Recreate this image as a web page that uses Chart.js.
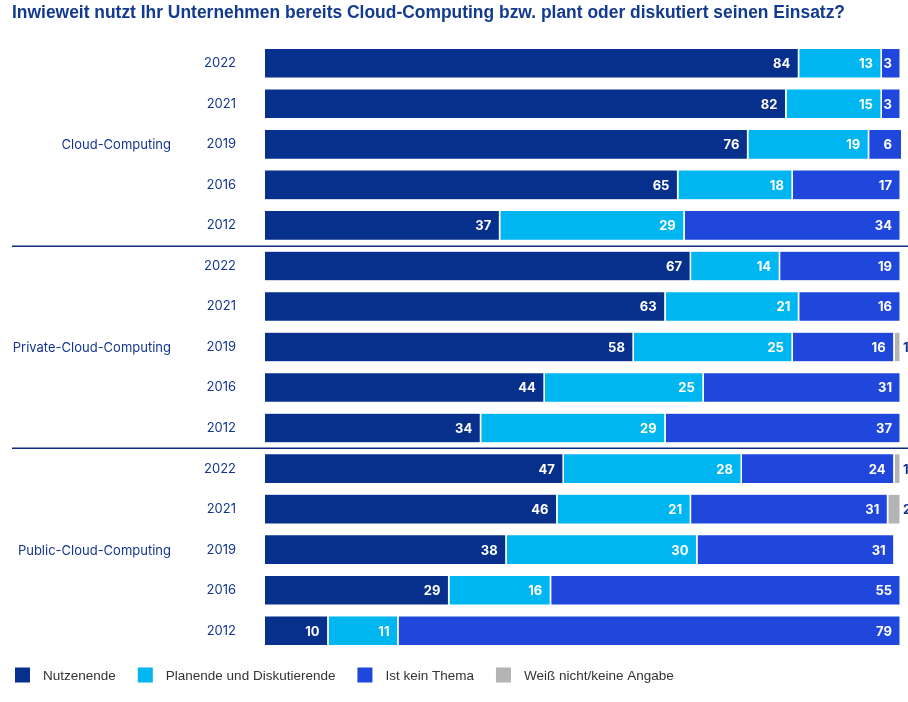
<!DOCTYPE html>
<html><head><meta charset="utf-8">
<script src="https://cdn.jsdelivr.net/npm/chart.js@4"></script>
<style>html,body{margin:0;padding:0;background:#fff}</style>
</head>
<body>
<canvas id="c" width="908" height="702"></canvas>
<script>
const titleText = 'Inwieweit nutzt Ihr Unternehmen bereits Cloud-Computing bzw. plant oder diskutiert seinen Einsatz?';
const groups = ['Cloud-Computing', 'Private-Cloud-Computing', 'Public-Cloud-Computing'];
const categories = ['2022','2021','2019','2016','2012', '2022','2021','2019','2016','2012', '2022','2021','2019','2016','2012'];
const seriesNames = ['Nutzenende', 'Planende und Diskutierende', 'Ist kein Thema', 'Weiß nicht/keine Angabe'];
const nutzende   = [84,82,76,65,37, 67,63,58,44,34, 47,46,38,29,10];
const planende   = [13,15,19,18,29, 14,21,25,25,29, 28,21,30,16,11];
const keinThema  = [3,3,6,17,34,    19,16,16,31,37, 24,31,31,55,79];
const weissNicht = [null,null,null,null,null, null,null,1,null,null, 1,2,null,null,null];

const colors = ['#072f8c', '#00b6f1', '#1f47db', '#b4b4b4'];
const navy = '#14368f';

const overlay = {
  id: 'overlay',
  afterDatasetsDraw(chart) {
    const ctx = chart.ctx, area = chart.chartArea;
    ctx.save();
    ctx.font = 'bold 13px Inter, Roboto, sans-serif';
    ctx.textBaseline = 'middle';
    chart.data.datasets.forEach((ds, i) => {
      const meta = chart.getDatasetMeta(i);
      meta.data.forEach((el, j) => {
        const v = ds.data[j];
        if (v == null) return;
        if (i < 3) {
          ctx.fillStyle = '#fff';
          ctx.textAlign = 'right';
          ctx.fillText(String(v), Math.min(el.x, area.right) - 9, el.y + 1);
        } else {
          ctx.fillStyle = navy;
          ctx.textAlign = 'left';
          ctx.fillText(String(v), Math.min(el.x, area.right) + 2, el.y + 1);
        }
      });
    });
    ctx.restore();
  },
  afterDraw(chart) {
    const ctx = chart.ctx, y = chart.scales.y;
    ctx.save();
    // title
    ctx.font = 'bold 18px "Liberation Sans", Arial, sans-serif';
    ctx.fillStyle = '#123a8f';
    ctx.textBaseline = 'middle';
    ctx.textAlign = 'left';
    const tw = ctx.measureText(titleText).width;
    ctx.translate(12, 13);
    ctx.scale(833 / tw, 1);
    ctx.fillText(titleText, 0, 0);
    ctx.setTransform(1, 0, 0, 1, 0, 0);
    // group labels
    ctx.font = '13px Inter, Roboto, sans-serif';
    ctx.fillStyle = navy;
    ctx.textAlign = 'right';
    groups.forEach((g, k) => {
      ctx.fillText(g, 171, y.getPixelForValue(k * 5 + 2) + 1);
    });
    // separators
    ctx.strokeStyle = '#0c2b80';
    ctx.lineWidth = 1.5;
    [4, 9].forEach(idx => {
      const yy = Math.round((y.getPixelForValue(idx) + y.getPixelForValue(idx + 1)) / 2) + 0.25;
      ctx.beginPath();
      ctx.moveTo(12, yy);
      ctx.lineTo(908, yy);
      ctx.stroke();
    });
    // legend
    ctx.font = '13.5px "Liberation Sans", Arial, sans-serif';
    ctx.textAlign = 'left';
    let lx = 15;
    const ly = 675;
    chart.data.datasets.forEach((ds, i) => {
      ctx.fillStyle = colors[i];
      ctx.fillRect(lx, ly - 7.5, 15, 15);
      ctx.fillStyle = '#333';
      ctx.fillText(ds.label, lx + 28, ly + 1);
      lx += 28 + ctx.measureText(ds.label).width + 22;
    });
    ctx.restore();
  }
};

const dataSeries = [nutzende, planende, keinThema, weissNicht];

new Chart(document.getElementById('c'), {
  type: 'bar',
  data: {
    labels: categories,
    datasets: dataSeries.map((d, i) => ({
      label: seriesNames[i],
      data: d,
      backgroundColor: colors[i],
      borderColor: '#ffffff',
      borderWidth: {top: 0.5, bottom: 0.5, right: 1.5, left: 0},
      borderSkipped: 'start',
      barPercentage: 0.73,
      categoryPercentage: 1
    }))
  },
  options: {
    indexAxis: 'y',
    responsive: false,
    animation: false,
    devicePixelRatio: 1,
    layout: {padding: {top: 43, right: 7, bottom: 51, left: 0}},
    plugins: {legend: {display: false}, tooltip: {enabled: false}, title: {display: false}},
    scales: {
      x: {stacked: true, min: 0, max: 100, display: false},
      y: {
        stacked: true,
        grid: {display: false, drawTicks: false},
        border: {display: false},
        ticks: {color: navy, font: {family: 'Inter, Roboto, sans-serif', size: 13}, padding: 29, autoSkip: false},
        afterFit(s) { s.width = 265; }
      }
    }
  },
  plugins: [overlay]
});
</script>
</body></html>
